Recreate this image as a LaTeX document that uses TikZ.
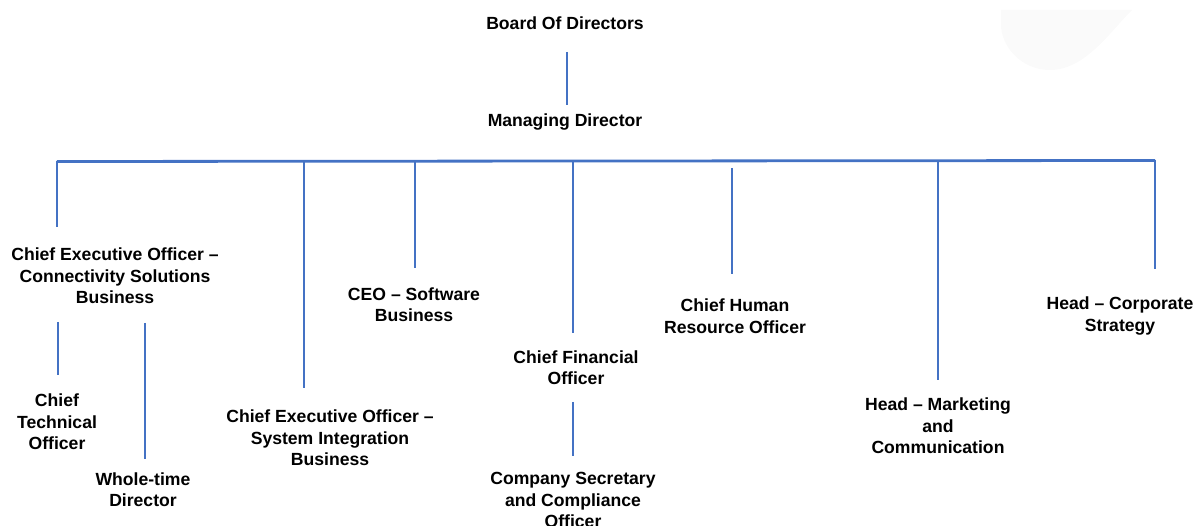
\documentclass[tikz,border=0pt]{standalone}
\usepackage{fontspec}
\setmainfont{Liberation Sans}
\definecolor{lineblue}{HTML}{4472C4}
\definecolor{faint}{HTML}{FAFAFA}
\begin{document}
\begin{tikzpicture}[x=1pt,y=-1pt,
  lbl/.style={font=\bfseries\fontsize{17.6}{21.5}\selectfont, align=center, inner sep=0pt, text=black},
  conn/.style={draw=lineblue, line width=2.8pt}]
\useasboundingbox (0,0) rectangle (1195,526);
% faint background shape
\fill[faint] (1001,10) -- (1132,10) .. controls (1110,32) and (1085,70) .. (1050,70)
  .. controls (1020,70) and (1001,45) .. (1001,25) -- cycle;

% labels
\node[lbl] (bod) at (565,23) {Board Of Directors};
\node[lbl] (md) at (565,122) {Managing Director};
\node[lbl] (ceocs) at (115,276) {Chief Executive Officer --\\Connectivity Solutions\\Business};
\node[lbl] (ceosw) at (414,304.5) {CEO -- Software\\Business};
\node[lbl] (ceosi) at (330,438) {Chief Executive Officer --\\System Integration\\Business};
\node[lbl] (cfo) at (576,367.5) {Chief Financial\\Officer};
\node[lbl] (chro) at (735,316) {Chief Human\\Resource Officer};
\node[lbl] (hcs) at (1120,316) {Head -- Corporate\\Strategy};
\node[lbl] (hmc) at (938,426) {Head -- Marketing\\and\\Communication};
\node[lbl] (cto) at (57,422) {Chief\\Technical\\Officer};
\node[lbl] (wtd) at (143,489.5) {Whole-time\\Director};
\node[lbl] (cs) at (573,500) {Company Secretary\\and Compliance\\Officer};

% connector end points
\coordinate (bodB) at (567,52);   \coordinate (mdT) at (567,105);
\coordinate (barL) at (57,161.5); \coordinate (barR) at (1155,160.5);
\coordinate (a1) at (57,161.5);   \coordinate (a2) at (57,227);
\coordinate (b1) at (304,161.5);  \coordinate (b2) at (304,388);
\coordinate (c1) at (415,161.5);  \coordinate (c2) at (415,268);
\coordinate (d1) at (573,161);    \coordinate (d2) at (573,333);
\coordinate (e1) at (732,168);    \coordinate (e2) at (732,274);
\coordinate (f1) at (938,160.5);  \coordinate (f2) at (938,380);
\coordinate (g1) at (1155,160.5); \coordinate (g2) at (1155,269);
\coordinate (h1) at (58,322);     \coordinate (h2) at (58,375);
\coordinate (i1) at (145,323);    \coordinate (i2) at (145,459);
\coordinate (j1) at (573,402);    \coordinate (j2) at (573,456);

\draw[conn] (bodB) -- (mdT);
\draw[conn] (barL) -- (barR);
\draw[conn] (a1) -- (a2);
\draw[conn] (b1) -- (b2);
\draw[conn] (c1) -- (c2);
\draw[conn] (d1) -- (d2);
\draw[conn] (e1) -- (e2);
\draw[conn] (f1) -- (f2);
\draw[conn] (g1) -- (g2);
\draw[conn] (h1) -- (h2);
\draw[conn] (i1) -- (i2);
\draw[conn] (j1) -- (j2);
\end{tikzpicture}
\end{document}
